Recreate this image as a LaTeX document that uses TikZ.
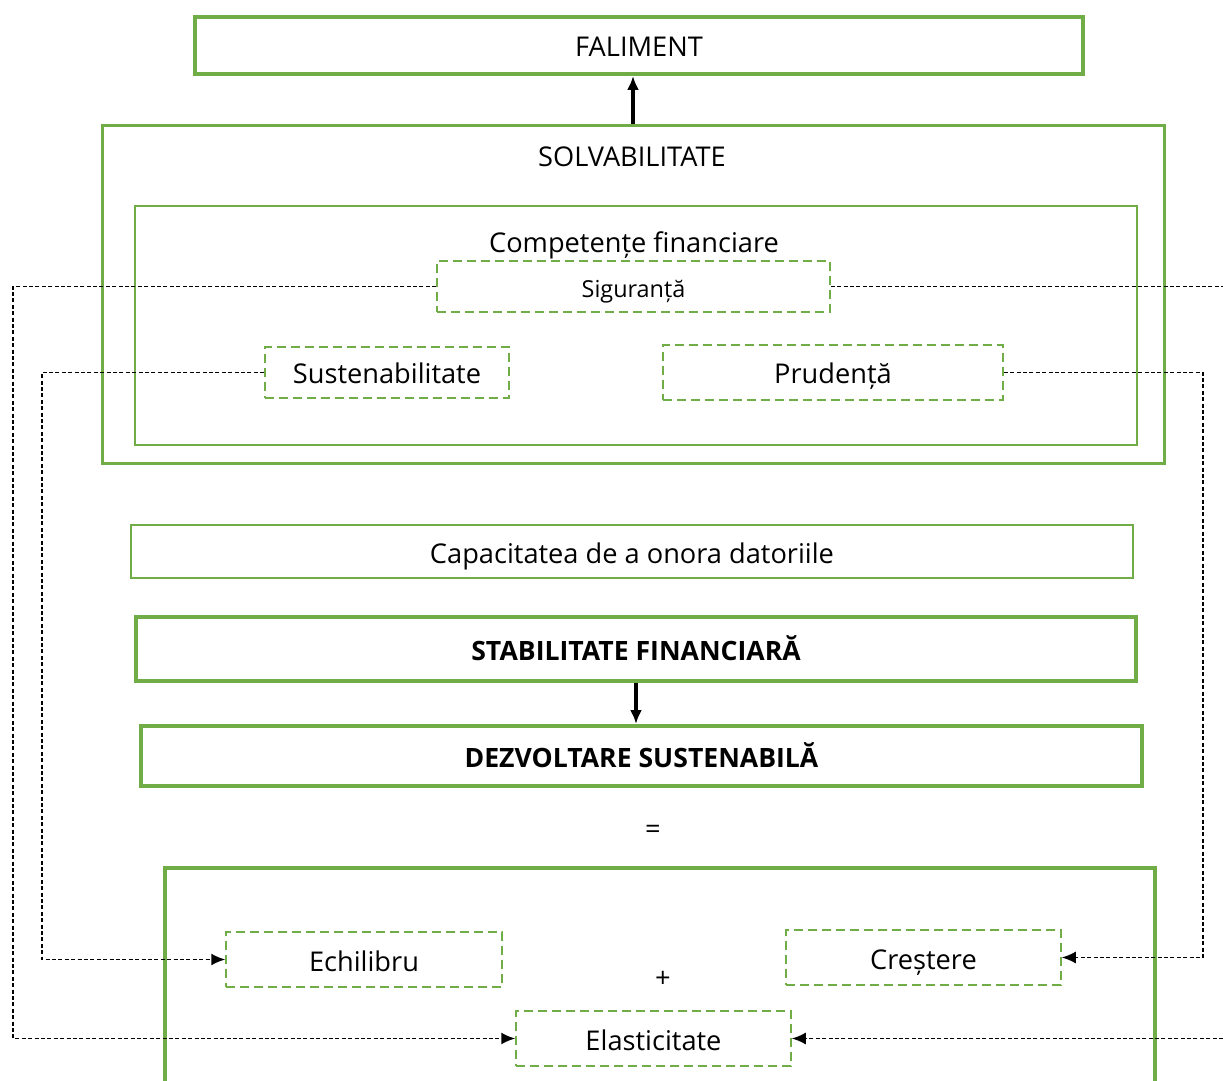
\documentclass[tikz,border=0pt]{standalone}
\usepackage{fontspec}
\setmainfont{Open Sans}
\usetikzlibrary{arrows.meta}
\begin{document}
\begin{tikzpicture}[x=0.5pt,y=-0.5pt,
  every node/.style={inner sep=0pt,font=\fontsize{13.6pt}{16pt}\selectfont},
  boxtext/.style={text height=1.25em,text depth=0.1em},
  bigbox/.style={boxtext,draw=officegreen,line width=2pt},
  midbox/.style={boxtext,draw=officegreen,line width=1.5pt},
  thinbox/.style={boxtext,draw=officegreen,line width=0.75pt},
  dashbox/.style={boxtext,draw=officegreen,line width=0.75pt,dash pattern=on 4.5pt off 2.5pt},
  link/.style={black,line width=0.9pt,dash pattern=on 2pt off 1.2pt},
  arrowlink/.style={link,-{Latex[length=7pt,width=6pt]}},
  bigarrow/.style={black,line width=1.8pt,-{Latex[length=7pt,width=6pt]}}]
\definecolor{officegreen}{HTML}{70AD47}
\useasboundingbox (0,0) rectangle (1223,1081);
  \node [bigbox,minimum width=444pt,minimum height=28.5pt] (fal) at (639,45.5) {FALIMENT};
  \node [midbox,minimum width=531pt,minimum height=168.5pt] (solv) at (633,294.5) {};
  \node (solvtext) at (632,157) {SOLVABILITATE};
  \node [thinbox,minimum width=501pt,minimum height=119.5pt] (comp) at (636,325.5) {};
  \node (comptext) at (634,245) {Competențe financiare};
  \node [dashbox,minimum width=196.5pt,minimum height=25.5pt,font=\fontsize{11.7pt}{14pt}\selectfont] (sig) at (633.5,286.5) {Siguranță};
  \node [dashbox,minimum width=122pt,minimum height=25.5pt] (sust) at (387,372.5) {Sustenabilitate};
  \node [dashbox,minimum width=170pt,minimum height=27.5pt] (prud) at (833,372.5) {Prudență};
  \node [thinbox,minimum width=501pt,minimum height=26.5pt] (capac) at (632,551.5) {Capacitatea de a onora datoriile};
  \node [bigbox,minimum width=500pt,minimum height=32pt,font=\fontsize{13.3pt}{16pt}\selectfont\bfseries] (stab) at (636,649) {STABILITATE FINANCIARĂ};
  \node [bigbox,minimum width=500.5pt,minimum height=30pt,font=\fontsize{13.3pt}{16pt}\selectfont\bfseries] (dezv) at (641.5,756) {DEZVOLTARE SUSTENABILĂ};
  \node (egal) at (653,832) {=};
  \node [bigbox,minimum width=495pt,minimum height=113.5pt] (baza) at (660,981.5) {};
  \node [dashbox,minimum width=138pt,minimum height=27.5pt] (echil) at (364,959.5) {Echilibru};
  \node (plus) at (663,979) {+};
  \node [dashbox,minimum width=137.5pt,minimum height=27.5pt] (cres) at (923.5,957.5) {Creștere};
  \node [dashbox,minimum width=137.5pt,minimum height=27.5pt] (elast) at (653.5,1038.5) {Elasticitate};
  \coordinate (lout) at (13,0);
  \coordinate (lin) at (42,0);
  \coordinate (rin) at (1203,0);
  \coordinate (redge) at (1223,0);
  \draw [bigarrow] (solv.north) -- (solv.north |- fal.south);
  \draw [bigarrow] (stab.south) -- (stab.south |- dezv.north);
  \draw [arrowlink] (sig.west) -- (sig.west -| lout) |- (elast.west);
  \draw [arrowlink] (sust.west) -- (sust.west -| lin) |- (echil.west);
  \draw [arrowlink] (prud.east) -- (prud.east -| rin) |- (cres.east);
  \draw [link] (sig.east) -- (sig.east -| redge);
  \draw [arrowlink] (elast.east -| redge) -- (elast.east);
\end{tikzpicture}
\end{document}
